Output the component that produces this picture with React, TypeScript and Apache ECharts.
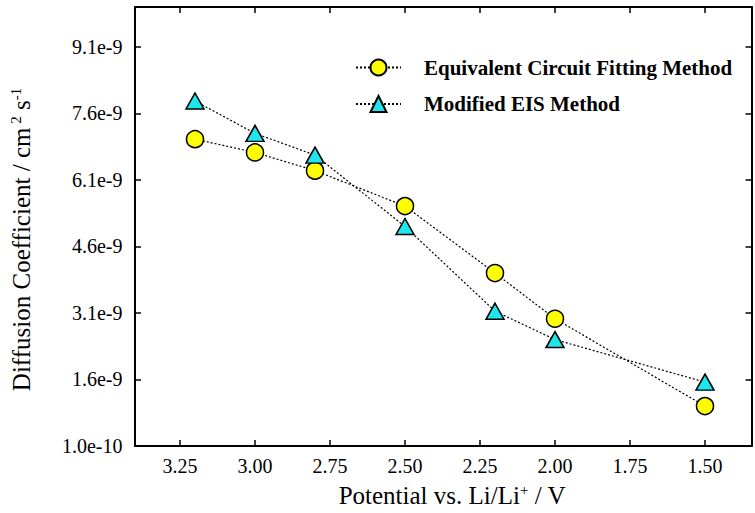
import React, { useEffect, useRef } from "react";
import * as echarts from "echarts";

// Potential (V) of each measurement
const potentials = [3.2, 3.0, 2.8, 2.5, 2.2, 2.0, 1.5];
// Diffusion coefficients, in units of 1e-9 cm^2 s^-1
const circuitFitting = [7.02, 6.72, 6.31, 5.51, 4.0, 2.97, 1.0];
const modifiedEIS = [7.88, 7.15, 6.66, 5.05, 3.14, 2.5, 1.54];
// Axis ticks
const xTicks = [3.25, 3.0, 2.75, 2.5, 2.25, 2.0, 1.75, 1.5];
const yTicks = [0.1, 1.6, 3.1, 4.6, 6.1, 7.6, 9.1];
const seriesNames = ["Equivalent Circuit Fitting Method", "Modified EIS Method"];

const FONT = "Liberation Serif";
const X_MIN = 1.345;
const X_MAX = 3.4;
const Y_MIN = 0.1;
const Y_MAX = 10.0;

export default function App() {
  const ref = useRef<HTMLDivElement>(null);
  useEffect(() => {
    if (!ref.current) return;
    const chart = echarts.init(ref.current, null, { renderer: "svg" });
    const supRich = {
      a: { fontFamily: FONT, fontSize: 25, color: "#000" },
      s: { fontFamily: FONT, fontSize: 15, color: "#000", verticalAlign: "top", padding: [0, 0, 12, 0] },
    };
    const mkAxisLine = () => ({ show: true, lineStyle: { color: "#000", width: 2 } });
    const mkTick = (cv: number[]) => ({
      show: true,
      inside: true,
      length: 6,
      lineStyle: { color: "#000", width: 1.5 },
      customValues: cv,
    });
    const labelFont = { fontFamily: FONT, fontSize: 20, color: "#000", opacity: 1 };
    const hiddenItem = { color: "rgba(0,0,0,0)", borderWidth: 0 };
    chart.setOption({
      animation: false,
      backgroundColor: "#fff",
      grid: { left: 135, right: 3.5, top: 7, bottom: 66, containLabel: false },
      legend: {
        orient: "vertical",
        left: 350,
        top: 52,
        itemWidth: 45,
        itemHeight: 20,
        itemGap: 15.5,
        data: seriesNames,
        textStyle: { fontFamily: FONT, fontWeight: "bold", fontSize: 21, color: "#000", padding: [0, 0, 0, 18] },
      },
      xAxis: [
        {
          type: "value",
          inverse: true,
          min: X_MIN,
          max: X_MAX,
          position: "bottom",
          name: "{a|Potential vs. Li/Li}{s|+}{a| / V}",
          nameLocation: "middle",
          nameGap: 36,
          nameTextStyle: { rich: supRich, padding: [0, 0, 0, 18] },
          axisLine: mkAxisLine(),
          axisTick: mkTick(xTicks),
          splitLine: { show: false },
          axisLabel: { show: false },
        },
        {
          type: "value",
          inverse: true,
          min: X_MIN,
          max: X_MAX,
          position: "top",
          axisLine: mkAxisLine(),
          axisTick: mkTick(xTicks),
          axisLabel: { show: false },
          splitLine: { show: false },
        },
      ],
      yAxis: [
        {
          type: "value",
          min: Y_MIN,
          max: Y_MAX,
          position: "left",
          name: "{a|Diffusion Coefficient / cm}{s| 2}{a| s}{s|-1}",
          nameLocation: "middle",
          nameGap: 100,
          nameRotate: 90,
          nameTextStyle: { rich: supRich, padding: [0, 26, 0, 0] },
          axisLine: mkAxisLine(),
          axisTick: mkTick(yTicks),
          splitLine: { show: false },
          axisLabel: { show: false },
        },
        {
          type: "value",
          min: Y_MIN,
          max: Y_MAX,
          position: "right",
          axisLine: mkAxisLine(),
          axisTick: mkTick(yTicks),
          axisLabel: { show: false },
          splitLine: { show: false },
        },
      ],
      series: [
        {
          name: seriesNames[0],
          type: "line",
          xAxisIndex: 0,
          yAxisIndex: 0,
          data: potentials.map((p, i) => [p, circuitFitting[i]]),
          symbol: "circle",
          symbolSize: 17,
          itemStyle: { color: "#ffff00", borderColor: "#000", borderWidth: 1.5 },
          lineStyle: { color: "#000", width: 1.2, type: [2, 2] },
          z: 3,
        },
        {
          name: seriesNames[1],
          type: "line",
          xAxisIndex: 0,
          yAxisIndex: 0,
          data: potentials.map((p, i) => [p, modifiedEIS[i]]),
          symbol: "triangle",
          symbolSize: [18, 16],
          itemStyle: { color: "#1ee6ec", borderColor: "#000", borderWidth: 1.5 },
          lineStyle: { color: "#000", width: 1.2, type: [2, 2] },
          z: 4,
        },
        {
          name: "xTickLabels",
          type: "scatter",
          xAxisIndex: 0,
          yAxisIndex: 0,
          silent: true,
          clip: false,
          symbol: "rect",
          symbolSize: 1,
          itemStyle: hiddenItem,
          data: xTicks.map((t) => [t, Y_MIN]),
          label: {
            show: true,
            position: "bottom",
            distance: 9,
            ...labelFont,
            formatter: (p: any) => (p.value[0] as number).toFixed(2),
          },
          z: 1,
        },
        {
          name: "yTickLabels",
          type: "scatter",
          xAxisIndex: 0,
          yAxisIndex: 0,
          silent: true,
          clip: false,
          symbol: "rect",
          symbolSize: 1,
          itemStyle: hiddenItem,
          data: yTicks.map((t) => [X_MAX, t]),
          label: {
            show: true,
            position: "left",
            distance: 12,
            ...labelFont,
            formatter: (p: any) => ((p.value[1] as number) * 1e-9).toExponential(1),
          },
          z: 1,
        },
      ],
    });
    return () => chart.dispose();
  }, []);
  return (
    <div
      ref={ref}
      style={{ position: "fixed", left: 0, top: 0, width: 755, height: 513, background: "#fff" }}
    />
  );
}
